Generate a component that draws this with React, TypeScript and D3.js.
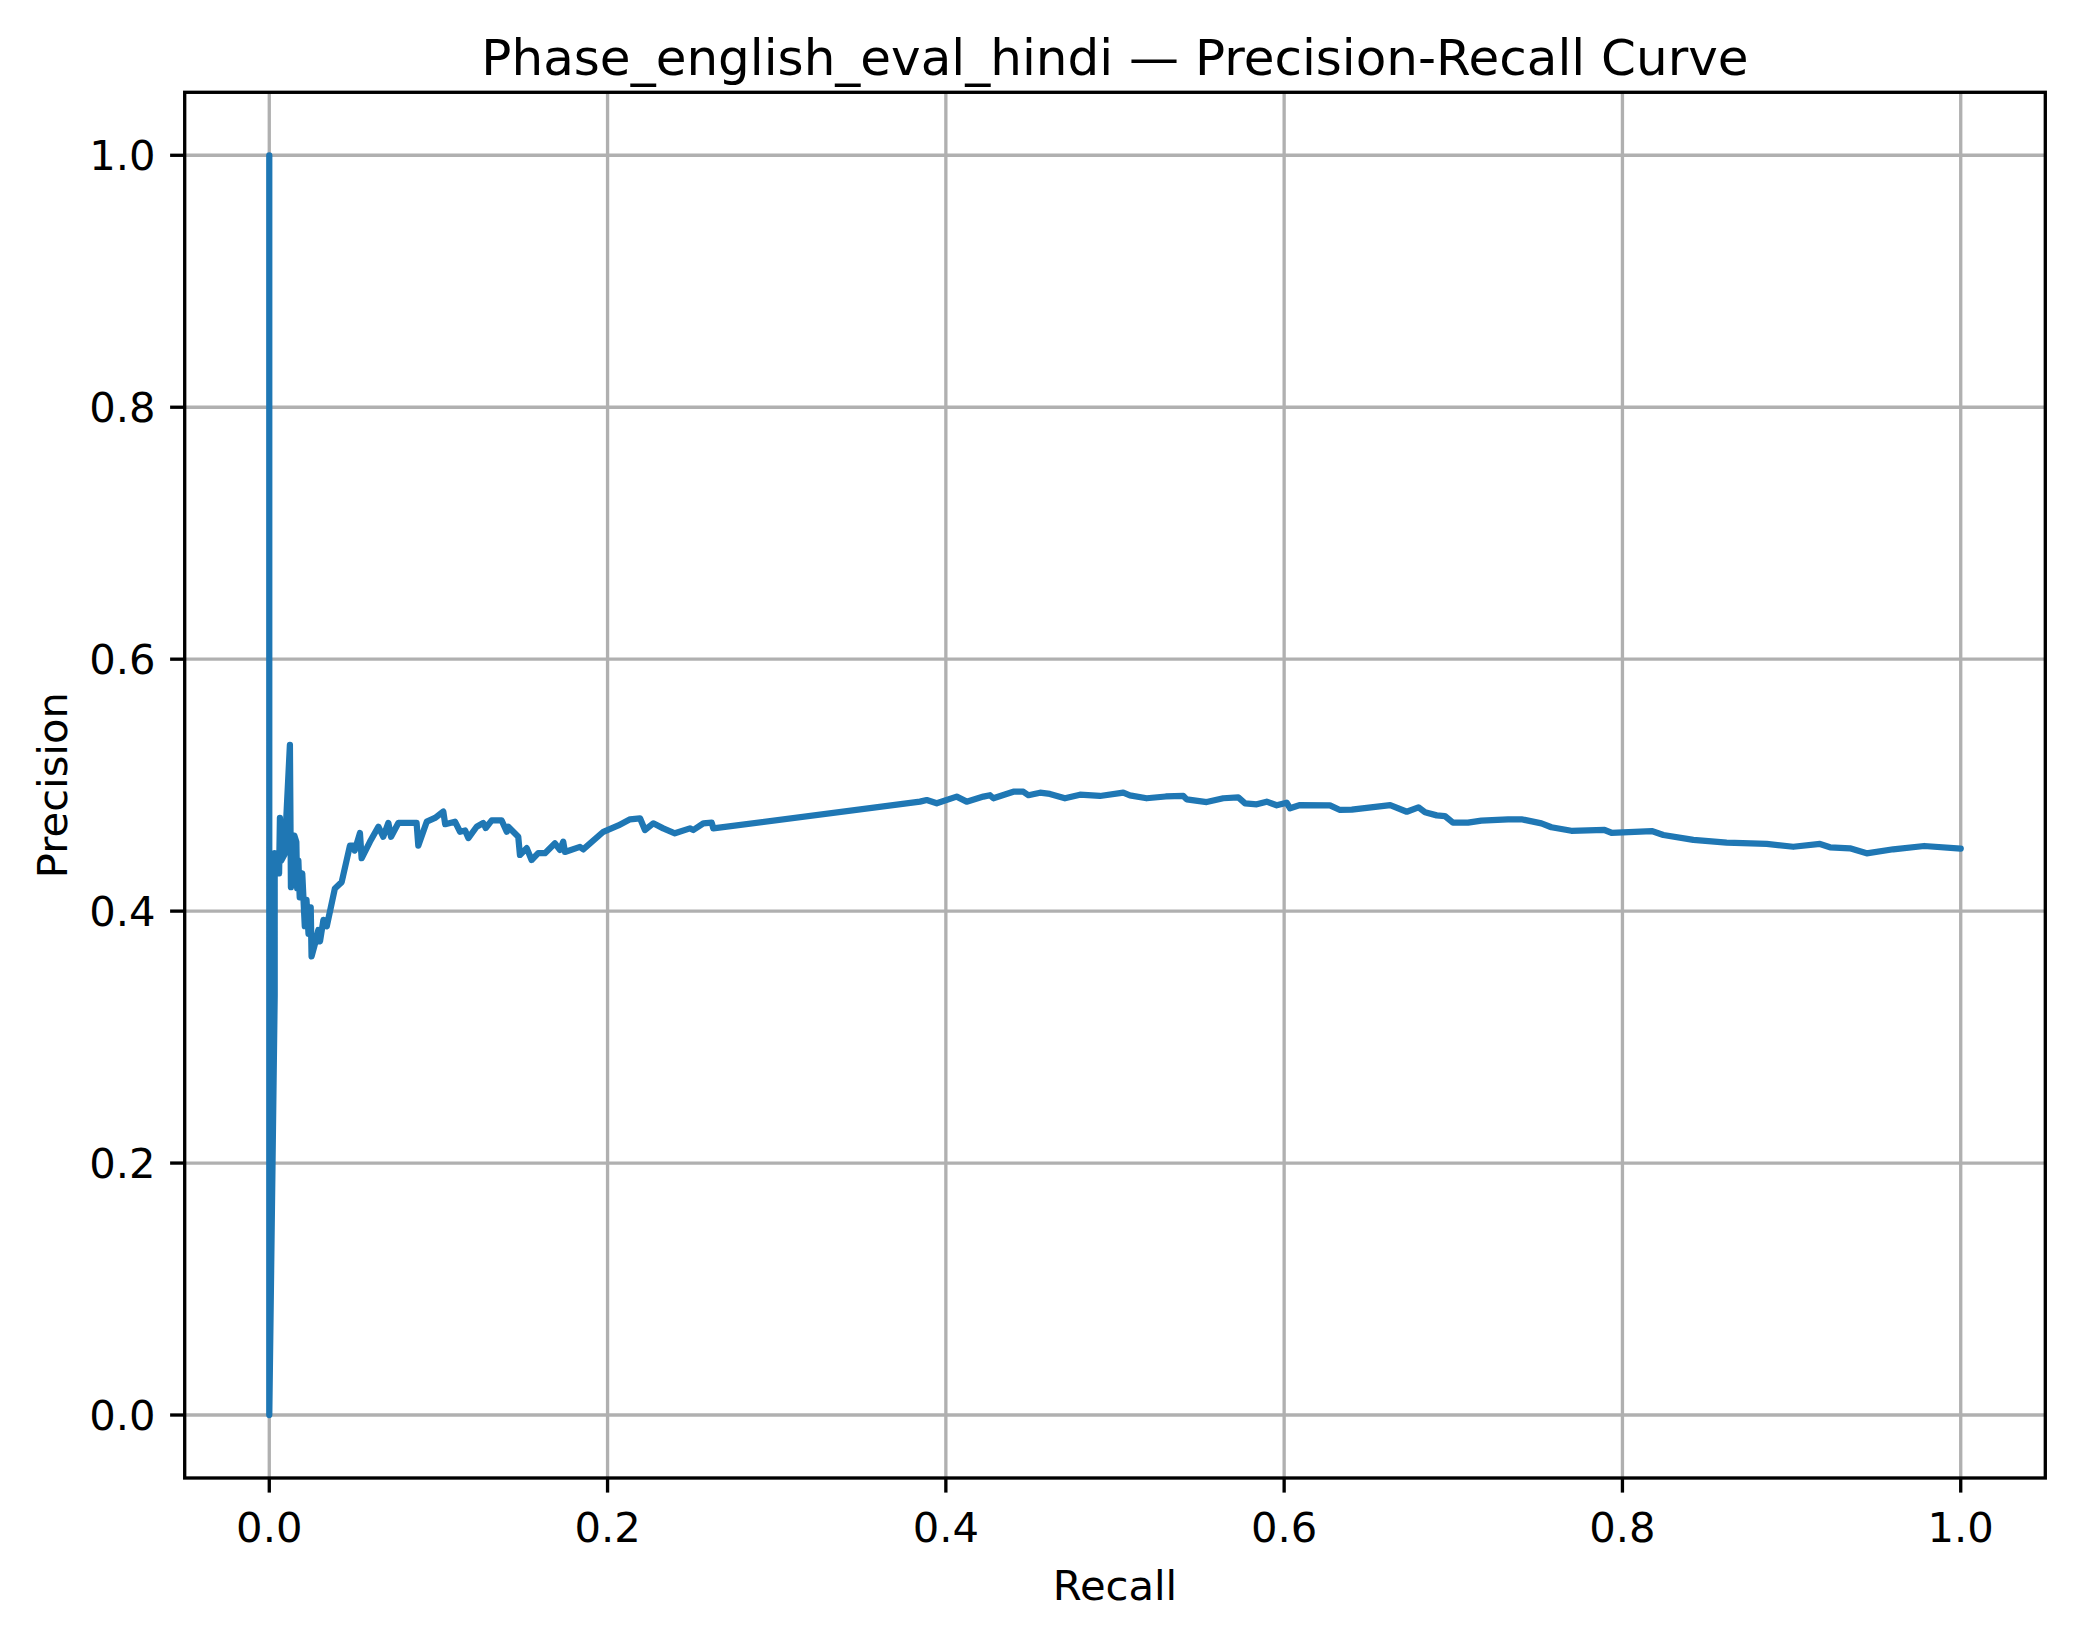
import React, { useEffect, useRef } from 'react';
import * as d3 from 'd3';

// precision-recall points (ordered by recall)
const recall = [
  0, 0, 0.0032, 0.0032, 0.0045, 0.0058, 0.0063, 0.0070, 0.0090, 0.0122, 0.0128, 0.0148, 0.0160,
  0.0165, 0.0172, 0.0180, 0.0195, 0.0210, 0.0220, 0.0232, 0.0245, 0.0250, 0.0270, 0.0290, 0.0300,
  0.0320, 0.0340, 0.0388, 0.0428, 0.0477, 0.0497, 0.0505, 0.0536, 0.0546, 0.0595, 0.0645, 0.0674,
  0.0704, 0.0720, 0.0763, 0.0871, 0.0881, 0.0931, 0.0980, 0.1029, 0.1040, 0.1098, 0.1128, 0.1158,
  0.1177, 0.1226, 0.1265, 0.1280, 0.1315, 0.1374, 0.1404, 0.1413, 0.1472, 0.1482, 0.1522, 0.1551,
  0.1590, 0.1630, 0.1689, 0.1718, 0.1738, 0.1748, 0.1837, 0.1856, 0.1975, 0.2064, 0.2133, 0.2192,
  0.2221, 0.2270, 0.2329, 0.2398, 0.2487, 0.2507, 0.2566, 0.2616, 0.2625, 0.3847, 0.3887, 0.3946,
  0.4064, 0.4123, 0.4222, 0.4261, 0.4281, 0.4399, 0.4458, 0.4488, 0.4557, 0.4615, 0.4704, 0.4793,
  0.4911, 0.5049, 0.5088, 0.5187, 0.5300, 0.5404, 0.5424, 0.5542, 0.5640, 0.5729, 0.5769, 0.5838,
  0.5897, 0.5956, 0.6015, 0.6035, 0.6094, 0.6271, 0.6330, 0.6400, 0.6627, 0.6725, 0.6794, 0.6833,
  0.6902, 0.6950, 0.6998, 0.7087, 0.7166, 0.7324, 0.7403, 0.7521, 0.7580, 0.7698, 0.7894, 0.7935,
  0.8173, 0.8242, 0.8419, 0.8616, 0.8853, 0.9010, 0.9168, 0.9227, 0.9345, 0.9444, 0.9601, 0.9784,
  1.0,
];
const precision = [
  1.0, 0.0, 0.333, 0.446, 0.44, 0.43, 0.474, 0.44, 0.445, 0.532, 0.419, 0.46, 0.455,
  0.418, 0.44, 0.411, 0.43, 0.388, 0.409, 0.382, 0.403, 0.364, 0.374, 0.385, 0.376,
  0.393, 0.388, 0.418, 0.423, 0.452, 0.452, 0.448, 0.462, 0.442, 0.455, 0.467, 0.459,
  0.47, 0.459, 0.47, 0.47, 0.452, 0.471, 0.474, 0.479, 0.469, 0.471, 0.463, 0.464,
  0.458, 0.467, 0.47, 0.466, 0.472, 0.472, 0.463, 0.467, 0.459, 0.4446, 0.45, 0.4406,
  0.446, 0.446, 0.4538, 0.4486, 0.4551, 0.447, 0.451, 0.449, 0.463, 0.468, 0.4729, 0.4737,
  0.4644, 0.4697, 0.4657, 0.4618, 0.4657, 0.4644, 0.4697, 0.4702, 0.4657, 0.4869, 0.4882, 0.4856,
  0.4909, 0.4869, 0.4909, 0.492, 0.4896, 0.4948, 0.4948, 0.492, 0.494, 0.493, 0.4896, 0.4924,
  0.4914, 0.494, 0.4919, 0.4896, 0.491, 0.4914, 0.4887, 0.4866, 0.4896, 0.4903, 0.4856, 0.4848,
  0.4869, 0.484, 0.4861, 0.4816, 0.4842, 0.484, 0.4803, 0.4805, 0.4842, 0.4789, 0.4824, 0.4785,
  0.476, 0.4755, 0.4702, 0.4702, 0.4718, 0.4729, 0.4729, 0.4697, 0.4666, 0.4638, 0.4644, 0.4622,
  0.4636, 0.4604, 0.4565, 0.4543, 0.4533, 0.4511, 0.4533, 0.4507, 0.4499, 0.4459, 0.4491, 0.4517,
  0.4496,
];
const xTicks = [0, 0.2, 0.4, 0.6, 0.8, 1.0];
const yTicks = [0, 0.2, 0.4, 0.6, 0.8, 1.0];

const title = 'Phase_english_eval_hindi \u2014 Precision-Recall Curve';

const width = 2074;
const height = 1638;

export default function App() {
  const svgRef = useRef<SVGSVGElement>(null);

  useEffect(() => {
    if (!svgRef.current) return;
    const svg = d3.select(svgRef.current);
    svg.selectAll('*').remove();

    const left = 184.7;
    const right = 2045.3;
    const top = 92.3;
    const bottom = 1478;
    const lw = 3.33;
    const tickLen = 14.6;
    const font = 'DejaVu Sans, sans-serif';

    const x = d3.scaleLinear().domain([-0.05, 1.05]).range([left, right]);
    const y = d3.scaleLinear().domain([-0.05, 1.05]).range([bottom, top]);

    svg.append('rect').attr('width', width).attr('height', height).attr('fill', '#ffffff');

    // grid
    const grid = svg.append('g').attr('stroke', '#b0b0b0').attr('stroke-width', lw);
    xTicks.forEach((t) => {
      grid.append('line').attr('x1', x(t)).attr('x2', x(t)).attr('y1', top).attr('y2', bottom);
    });
    yTicks.forEach((t) => {
      grid.append('line').attr('x1', left).attr('x2', right).attr('y1', y(t)).attr('y2', y(t));
    });

    // curve
    const data: [number, number][] = recall.map((r, i) => [r, precision[i]]);
    const line = d3
      .line<[number, number]>()
      .x((d) => x(d[0]))
      .y((d) => y(d[1]));
    svg
      .append('path')
      .datum(data)
      .attr('d', line)
      .attr('fill', 'none')
      .attr('stroke', '#1f77b4')
      .attr('stroke-width', 6.25)
      .attr('stroke-linejoin', 'round')
      .attr('stroke-linecap', 'round');

    // spines
    svg
      .append('rect')
      .attr('x', left)
      .attr('y', top)
      .attr('width', right - left)
      .attr('height', bottom - top)
      .attr('fill', 'none')
      .attr('stroke', '#000')
      .attr('stroke-width', lw)
      .attr('stroke-linejoin', 'miter');

    // ticks + labels
    const ticks = svg.append('g').attr('stroke', '#000').attr('stroke-width', lw);
    xTicks.forEach((t) => {
      ticks.append('line').attr('x1', x(t)).attr('x2', x(t)).attr('y1', bottom).attr('y2', bottom + tickLen);
      svg
        .append('text')
        .attr('x', x(t))
        .attr('y', 1541.7)
        .attr('text-anchor', 'middle')
        .attr('font-family', font)
        .attr('font-size', 41.7)
        .attr('fill', '#000')
        .text(d3.format('.1f')(t));
    });
    yTicks.forEach((t) => {
      ticks.append('line').attr('x1', left - tickLen).attr('x2', left).attr('y1', y(t)).attr('y2', y(t));
      svg
        .append('text')
        .attr('x', left - tickLen - 14.6)
        .attr('y', y(t) + 15.2)
        .attr('text-anchor', 'end')
        .attr('font-family', font)
        .attr('font-size', 41.7)
        .attr('fill', '#000')
        .text(d3.format('.1f')(t));
    });

    // axis labels
    svg
      .append('text')
      .attr('x', (left + right) / 2)
      .attr('y', 1600)
      .attr('text-anchor', 'middle')
      .attr('font-family', font)
      .attr('font-size', 41.7)
      .attr('fill', '#000')
      .text('Recall');

    svg
      .append('text')
      .attr('transform', `translate(66.7,${(top + bottom) / 2}) rotate(-90)`)
      .attr('text-anchor', 'middle')
      .attr('font-family', font)
      .attr('font-size', 41.7)
      .attr('fill', '#000')
      .text('Precision');

    // title
    svg
      .append('text')
      .attr('x', (left + right) / 2)
      .attr('y', 75)
      .attr('text-anchor', 'middle')
      .attr('font-family', font)
      .attr('font-size', 50)
      .attr('fill', '#000')
      .text(title);
  }, []);

  return (
    <svg
      ref={svgRef}
      width={width}
      height={height}
      style={{ position: 'absolute', left: 0, top: 0, display: 'block' }}
    />
  );
}
